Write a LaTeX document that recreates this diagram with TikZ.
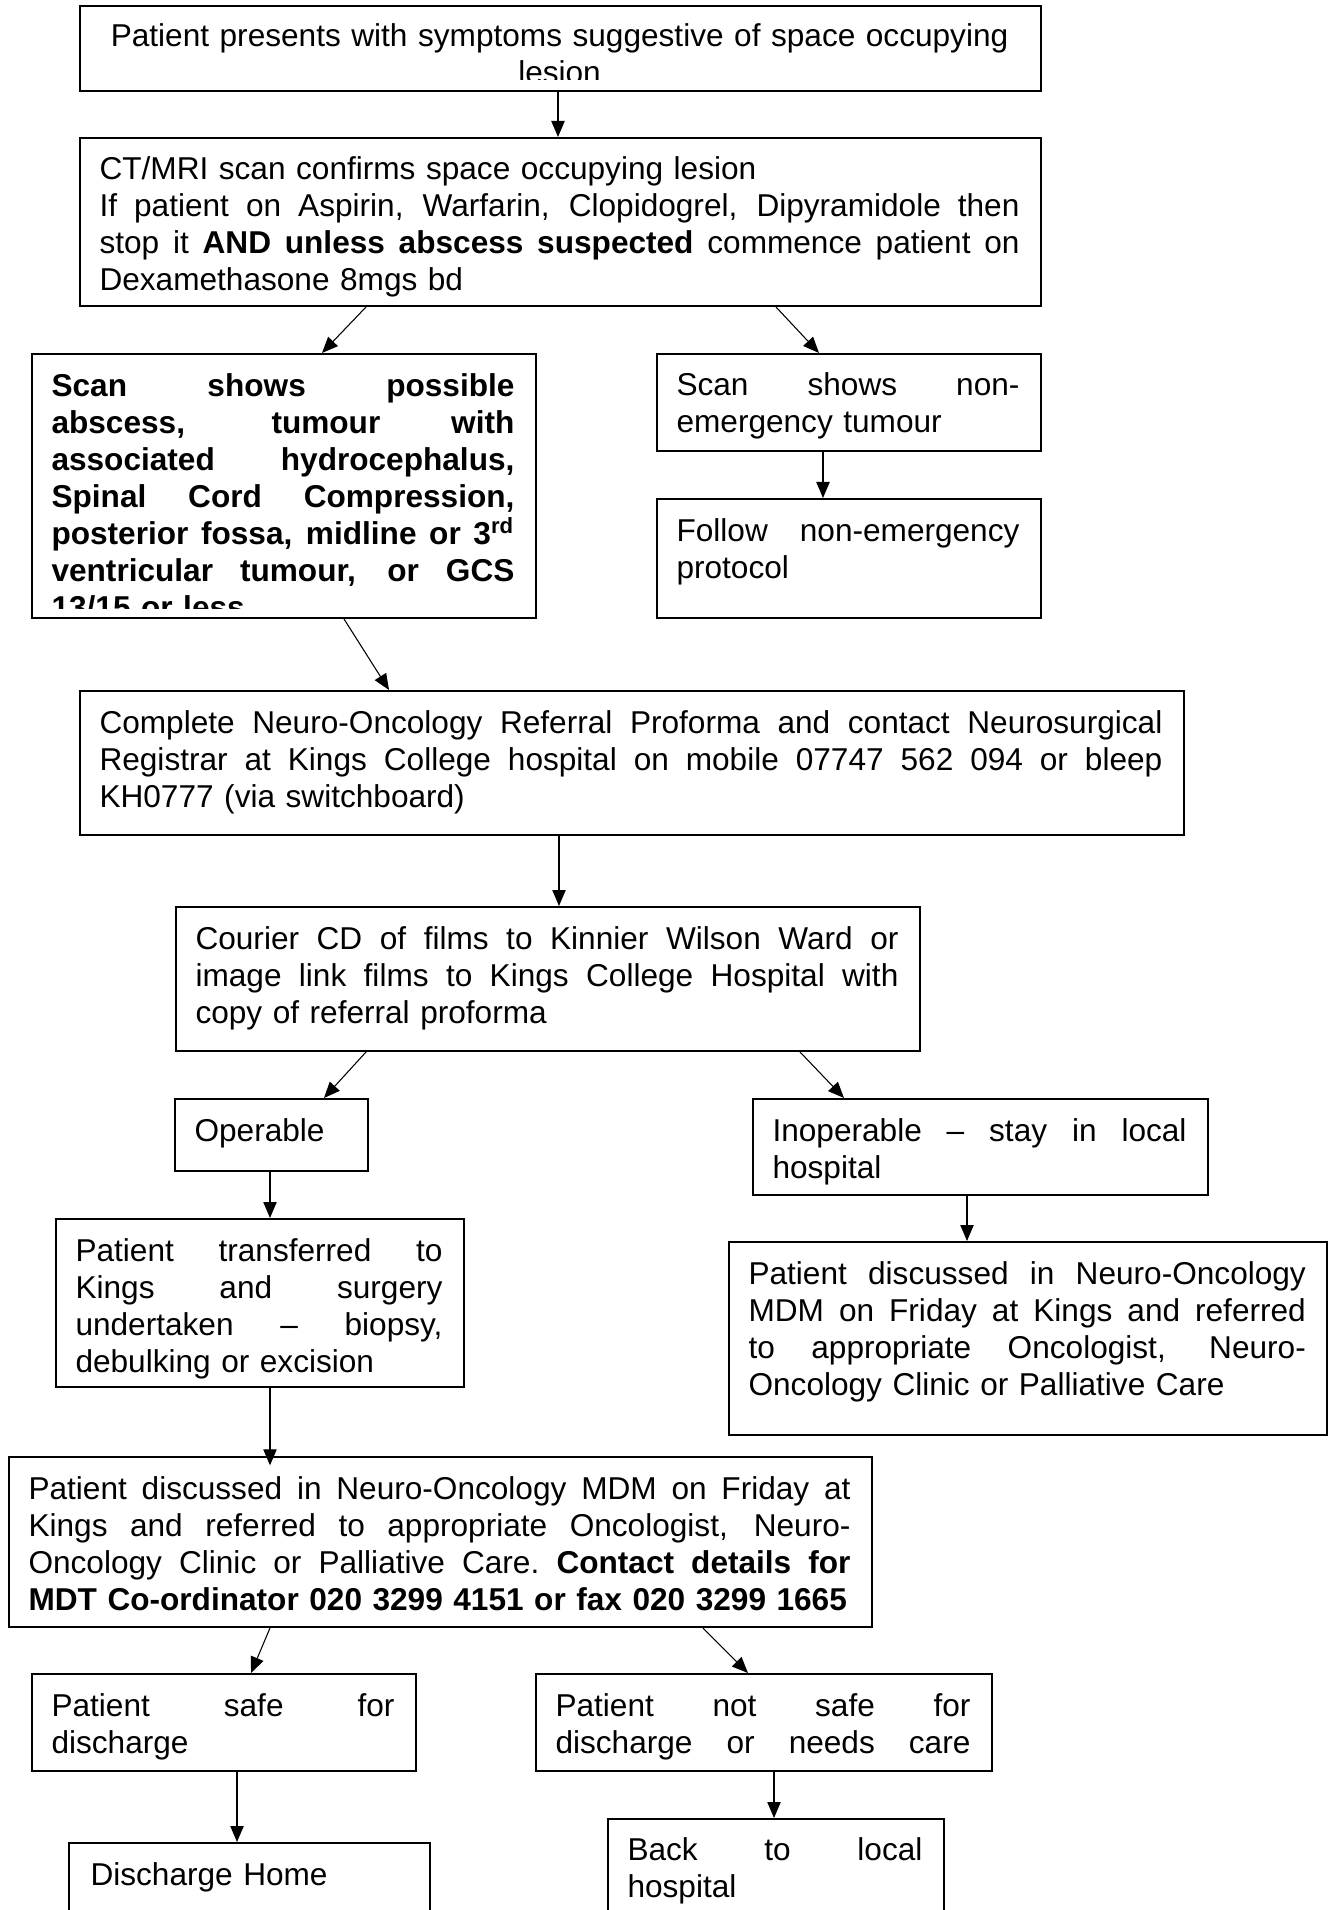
\documentclass[tikz,border=0pt]{standalone}
\usepackage{fontspec}
\setmainfont{Liberation Sans}
\usetikzlibrary{arrows.meta,calc,fit}
\def\curw{100pt}
\newcommand\jl[1]{\leavevmode\hbox to \curw{\spaceskip=0.278em plus 1fil\relax\xspaceskip=0.278em plus 1fil\relax #1}}
\tikzset{
  box/.style={draw, line width=0.75pt, inner sep=0pt, rectangle},
  txt/.style={inner sep=0pt, anchor=base west, align=left, font=\fontsize{11.85pt}{13.875pt}\selectfont},
  tw/.style={text width=#1, execute at begin node={\def\curw{#1}}},
  arr/.style={-{Triangle[length=6pt,width=5pt]}, line width=0.4pt}
}
\begin{document}
\begin{tikzpicture}[x=0.375pt,y=-0.375pt]
\clip (0,0) rectangle (1329,1910);
\fill[white] (0,0) rectangle (1329,1910);
% boxes
\node[box, fit={(80,6) (1041,91)}] (b1) {};
\node[box, fit={(80,138) (1041,306)}] (b2) {};
\node[box, fit={(32,354) (536,618)}] (b3) {};
\node[box, fit={(657,354) (1041,451)}] (b4) {};
\node[box, fit={(657,499) (1041,618)}] (b5) {};
\node[box, fit={(80,691) (1184,835)}] (b6) {};
\node[box, fit={(176,907) (920,1051)}] (b7) {};
\node[box, fit={(175,1099) (368,1171)}] (b8) {};
\node[box, fit={(753,1099) (1208,1195)}] (b9) {};
\node[box, fit={(56,1219) (464,1387)}] (b10) {};
\node[box, fit={(729,1242) (1327,1435)}] (b11) {};
\node[box, fit={(9,1457) (872,1627)}] (b12) {};
\node[box, fit={(32,1674) (416,1771)}] (b13) {};
\node[box, fit={(536,1674) (992,1771)}] (b14) {};
\node[box, fit={(69,1843) (430,1930)}] (b15) {};
\node[box, fit={(608,1819) (944,1930)}] (b16) {};
% texts
\begin{scope}
\clip (80,6) rectangle (1041,80);
\node[txt, tw=345pt, align=center] (t1) at ($(b1.north west)+(20,42)$)
  {Patient presents with symptoms suggestive of space occupying\\lesion};
\end{scope}
\node[txt, tw=345pt] (t2) at ($(b2.north west)+(20,43)$)
  {CT/MRI scan confirms space occupying lesion\\
   \jl{If patient on Aspirin, Warfarin, Clopidogrel, Dipyramidole then}\\
   \jl{stop it \textbf{AND unless abscess suspected} commence patient on}\\
   Dexamethasone 8mgs bd};
\begin{scope}
\clip (32,354) rectangle (536,608);
\node[txt, tw=173.6pt, font=\fontsize{11.85pt}{13.875pt}\selectfont\bfseries] (t3) at ($(b3.north west)+(20,44)$)
  {\jl{Scan shows possible}\\
   \jl{abscess, tumour with}\\
   \jl{associated hydrocephalus,}\\
   \jl{Spinal Cord Compression,}\\
   \jl{posterior fossa, midline or 3\textsuperscript{rd}}\\
   \jl{ventricular tumour, or GCS}\\
   13/15 or less};
\end{scope}
\node[txt, tw=128.6pt] (t4) at ($(b4.north west)+(20,43)$)
  {\jl{Scan shows non-}\\ emergency tumour};
\node[txt, tw=128.6pt] (t5) at ($(b5.north west)+(20,43)$)
  {\jl{Follow non-emergency}\\ protocol};
\node[txt, tw=398.6pt] (t6) at ($(b6.north west)+(20,43)$)
  {\jl{Complete Neuro-Oncology Referral Proforma and contact Neurosurgical}\\
   \jl{Registrar at Kings College hospital on mobile 07747 562 094 or bleep}\\
   KH0777 (via switchboard)};
\node[txt, tw=263.6pt] (t7) at ($(b7.north west)+(20,43)$)
  {\jl{Courier CD of films to Kinnier Wilson Ward or}\\
   \jl{image link films to Kings College Hospital with}\\
   copy of referral proforma};
\node[txt, tw=57pt] (t8) at ($(b8.north west)+(20,43)$) {Operable};
\node[txt, tw=155.25pt] (t9) at ($(b9.north west)+(20,43)$)
  {\jl{Inoperable – stay in local}\\ hospital};
\node[txt, tw=137.6pt] (t10) at ($(b10.north west)+(20,43)$)
  {\jl{Patient transferred to}\\
   \jl{Kings and surgery}\\
   \jl{undertaken – biopsy,}\\
   debulking or excision};
\node[txt, tw=209pt] (t11) at ($(b11.north west)+(20,43)$)
  {\jl{Patient discussed in Neuro-Oncology}\\
   \jl{MDM on Friday at Kings and referred}\\
   \jl{to appropriate Oncologist, Neuro-}\\
   Oncology Clinic or Palliative Care};
\node[txt, tw=308.25pt] (t12) at ($(b12.north west)+(20,43)$)
  {\jl{Patient discussed in Neuro-Oncology MDM on Friday at}\\
   \jl{Kings and referred to appropriate Oncologist, Neuro-}\\
   \jl{Oncology Clinic or Palliative Care. \textbf{Contact details for}}\\
   \mbox{\textbf{MDT Co-ordinator 020 3299 4151 or fax 020 3299 1665}}};
\node[txt, tw=128.6pt] (t13) at ($(b13.north west)+(20,43)$)
  {\jl{Patient safe for}\\ discharge};
\node[txt, tw=155.6pt] (t14) at ($(b14.north west)+(20,43)$)
  {\jl{Patient not safe for}\\ \jl{discharge or needs care}};
\node[txt, tw=120pt] (t15) at ($(b15.north west)+(22,43)$) {Discharge Home};
\node[txt, tw=110.6pt] (t16) at ($(b16.north west)+(20,42)$)
  {\jl{Back to local}\\ hospital};
% connectors
\draw[arr] ($(b1.south west)+(479,0)$) -- ($(b2.north west)+(479,0)$);
\draw[arr] ($(b2.south west)+(287,0)$) -- ($(b3.north west)+(291,0)$);
\draw[arr] ($(b2.south west)+(697,0)$) -- ($(b4.north west)+(163,0)$);
\draw[arr] ($(b4.south west)+(167,0)$) -- ($(b5.north west)+(167,0)$);
\draw[arr] ($(b3.south west)+(313,0)$) -- ($(b6.north west)+(310,0)$);
\draw[arr] ($(b6.south west)+(480,0)$) -- ($(b7.north west)+(384,0)$);
\draw[arr] ($(b7.south west)+(191,0)$) -- ($(b8.north west)+(150,0)$);
\draw[arr] ($(b7.south west)+(625,0)$) -- ($(b9.north west)+(92,0)$);
\draw[arr] ($(b8.south west)+(96,0)$) -- ($(b10.north west)+(215,0)$);
\draw[arr] ($(b9.south west)+(215,0)$) -- ($(b11.north west)+(239,0)$);
\draw[arr, shorten >=-3.5pt] ($(b10.south west)+(215,0)$) -- ($(b12.north west)+(262,0)$);
\draw[arr] ($(b12.south west)+(262,0)$) -- ($(b13.north west)+(220,0)$);
\draw[arr] ($(b12.south west)+(695,0)$) -- ($(b14.north west)+(213,0)$);
\draw[arr] ($(b13.south west)+(206,0)$) -- ($(b15.north west)+(169,0)$);
\draw[arr] ($(b14.south west)+(239,0)$) -- ($(b16.north west)+(167,0)$);
\end{tikzpicture}
\end{document}
